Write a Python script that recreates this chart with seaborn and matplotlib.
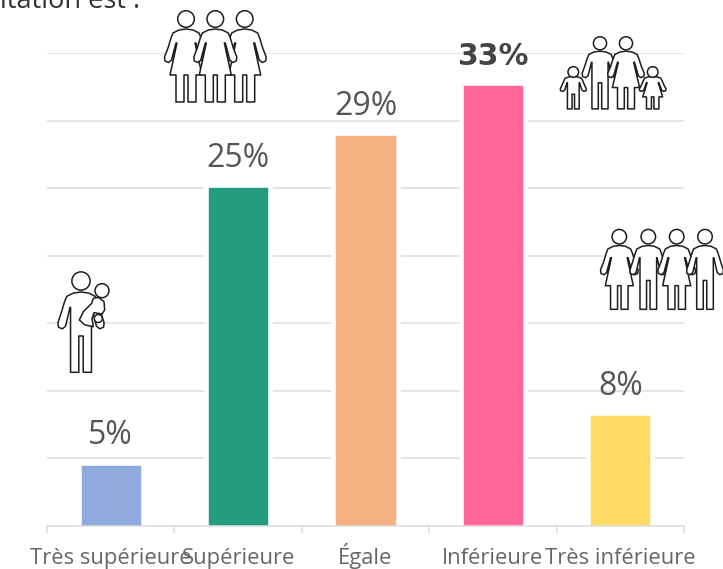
import numpy as np
import pandas as pd
import matplotlib
matplotlib.use("Agg")
import matplotlib.pyplot as plt
import matplotlib.patheffects as pe
from matplotlib.patches import Circle, Polygon
import seaborn as sns

categories = ["Très supérieure", "Supérieure", "Égale", "Inférieure", "Très inférieure"]
values = [4.5, 25.05, 28.9, 32.6, 8.2]
value_labels = ["5%", "25%", "29%", "33%", "8%"]
colors = ["#8FAADC", "#259B7F", "#F4B183", "#FF6699", "#FFD966"]
y_ticks = [0, 5, 10, 15, 20, 25, 30, 35]
title_fragment = "itation est :"

W, H = 723, 569
sns.set_theme(style="white")
plt.rcParams["font.family"] = ["Open Sans", "DejaVu Sans"]

fig = plt.figure(figsize=(W / 100, H / 100), dpi=100)
ax = fig.add_axes([47 / W, 1 - 525.5 / H, 637 / W, 472.5 / H])
df = pd.DataFrame({"cat": categories, "val": values})
sns.barplot(data=df, x="cat", y="val", hue="cat", palette=colors, legend=False, saturation=1,
            width=0.474, ax=ax, edgecolor="white", linewidth=0.4, zorder=2)
for p in ax.patches:
    p.set_path_effects([pe.Stroke(linewidth=6.2, foreground="white"), pe.Normal()])

ax.set_xlim(-0.5, 4.5)
ax.set_ylim(0, 35)
ax.set_yticks(y_ticks)
ax.set_xlabel("")
ax.set_ylabel("")
ax.yaxis.grid(True, color="#DEDEDE", linewidth=1.15, zorder=0)
ax.set_axisbelow(True)
ax.tick_params(axis="y", length=0, labelleft=False)
for s in ["top", "right", "left"]:
    ax.spines[s].set_visible(False)
ax.spines["bottom"].set_color("#DEDEDE")
ax.spines["bottom"].set_linewidth(1.15)

# category labels sit at band centres, ticks at band edges
ax.set_xticks(np.arange(len(categories)))
ax.set_xticklabels(categories, fontsize=15.8, color="#666666", va="baseline")
ax.tick_params(axis="x", which="major", length=0, pad=27.8)
ax.set_xticks(np.arange(len(categories) + 1) - 0.5, minor=True)
ax.tick_params(axis="x", which="minor", bottom=True, length=5, width=1.15, color="#DEDEDE")

for i, (v, lab) in enumerate(zip(values, value_labels)):
    style = (dict(fontsize=21.5, color="#444444", fontweight="bold", family="DejaVu Sans")
             if lab == "33%" else dict(fontsize=23, color="#555555"))
    ax.annotate(lab, (i, v), xytext=(0, 14.6), textcoords="offset points", ha="center",
                va="baseline", annotation_clip=False, **style)

fig.text(0, 1 - 8 / H, title_fragment, fontsize=19.5, color="#333333", ha="left", va="baseline")

# overlay in pixel coordinates for the pictograms
ov = fig.add_axes([0, 0, 1, 1], zorder=10)
ov.set_xlim(0, W)
ov.set_ylim(H, 0)
ov.axis("off")
ov.patch.set_alpha(0)

INK = "#1E1E1E"
LW = 1.1
WOMAN = [(0, 10), (7, 11), (13, 14), (15, 19), (18, 29), (21.5, 38), (21, 42), (17.5, 43.5), (14.5, 41),
         (10, 24), (9, 24), (16, 56), (10, 56), (10, 83), (2, 83), (2, 56), (-2, 56), (-2, 83), (-10, 83),
         (-10, 56), (-16, 56), (-9, 24), (-10, 24), (-14.5, 41), (-17.5, 43.5), (-21, 42), (-21.5, 38),
         (-18, 29), (-15, 19), (-13, 14), (-7, 11)]
MAN = [(0, 10), (7, 11), (13, 14), (15, 19), (18, 29), (21, 38), (20.5, 42), (17, 43.5), (14, 41),
       (10, 24), (9.5, 24), (9.5, 83), (2, 83), (2, 50), (-2, 50), (-2, 83), (-9.5, 83), (-9.5, 24),
       (-10, 24), (-14, 41), (-17, 43.5), (-20.5, 42), (-21, 38), (-18, 29), (-15, 19), (-13, 14), (-7, 11)]


def person(cx, cy, s, shape, z=1, sx=None, r=None):
    sx = s if sx is None else sx
    r = 8.3 * s if r is None else r
    pts = [(cx + a * sx, cy + b * s) for a, b in shape]
    ov.add_patch(Polygon(pts, closed=True, fc="white", ec=INK, lw=LW, joinstyle="round", zorder=z))
    ov.add_patch(Circle((cx, cy), r, fc="white", ec=INK, lw=LW, zorder=z))


# three women
person(186, 19, 1, WOMAN, z=1)
person(244.7, 19, 1, WOMAN, z=1)
person(215.3, 19, 1, WOMAN, z=2)

# family
person(573.3, 72, 0.445, MAN, z=1, sx=0.62, r=5.3)
person(652.7, 72, 0.445, WOMAN, z=1, sx=0.62, r=5.3)
person(600, 43.3, 0.79, MAN, z=2, sx=0.85)
person(626, 43.3, 0.79, WOMAN, z=3, sx=0.85)

# two couples
for x, shape in zip([619.3, 648.3, 676.7, 705], [WOMAN, MAN, WOMAN, MAN]):
    person(x, 236.7, 0.875, shape, z=1)

# adult with baby
person(81, 281, 1.1, MAN, z=1)
baby = [(205, 112), (222, 125), (224, 150), (216, 162), (192, 158), (186, 175), (190, 200), (165, 195),
        (148, 180), (160, 155), (185, 130), (190, 115)]
ov.add_patch(Polygon([(30 + a / 3, 260 + b / 3) for a, b in baby], closed=True, fc="white", ec=INK,
                     lw=LW, joinstyle="round", zorder=2))
ov.add_patch(Circle((102, 290.7), 7, fc="white", ec=INK, lw=LW, zorder=3))
ov.add_patch(Circle((98.3, 318.5), 4, fc="white", ec=INK, lw=LW, zorder=3))

fig.savefig("out.png", dpi=100, facecolor="white")
